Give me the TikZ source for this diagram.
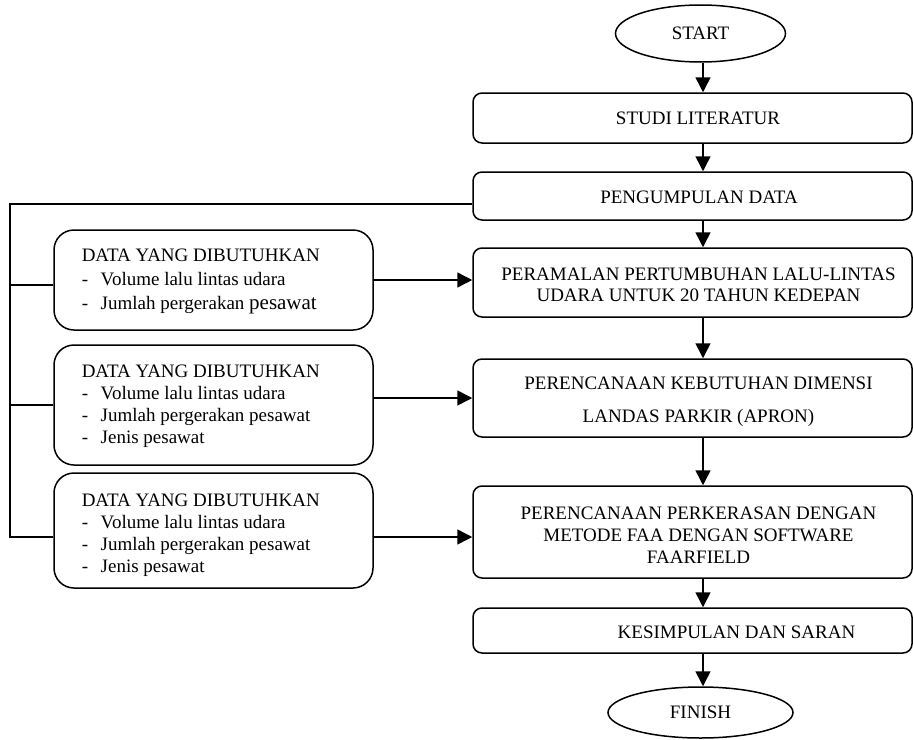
\documentclass[tikz,border=0pt]{standalone}
\usepackage{fontspec}
\setmainfont{Liberation Serif}
\usetikzlibrary{arrows.meta,shapes.geometric}
\begin{document}
\begin{tikzpicture}[x=1pt,y=-1pt,line width=1.5pt,
  rbox/.style={draw,rounded corners=9pt,minimum width=439pt,inner sep=0pt},
  lbox/.style={draw,rounded corners=20pt,minimum width=319pt,inner sep=0pt},
  oval/.style={draw,ellipse,inner sep=0pt,font=\fontsize{19}{22}\selectfont},
  txt/.style={font=\fontsize{19}{21}\selectfont,align=center,inner sep=0pt},
  ltxt/.style={font=\fontsize{19}{22}\selectfont,align=left,inner sep=0pt,anchor=west},
  arr/.style={-{Triangle[length=15pt,width=15pt]}}]
\useasboundingbox (0,0) rectangle (913,739);
\newcommand{\dashitem}{\makebox[19pt][l]{-}}

% right column
\node[oval,minimum width=170pt,minimum height=57pt] (start) at (700.5,33.5) {START};
\node[rbox,minimum height=50pt] (studi) at (692.5,118) {};
\node[txt] (studit) at (698,118) {STUDI LITERATUR};
\node[rbox,minimum height=48pt] (peng) at (692.5,196) {};
\node[txt] (pengt) at (699,197) {PENGUMPULAN DATA};
\node[rbox,minimum height=69pt] (peram) at (692.5,282.5) {};
\node[txt] (peramt) at (698.5,285) {PERAMALAN PERTUMBUHAN LALU-LINTAS\\UDARA UNTUK 20 TAHUN KEDEPAN};
\node[rbox,minimum height=78pt] (apron) at (692.5,398) {};
\node[txt,font=\fontsize{19}{33}\selectfont] (apront) at (698.5,401.5) {PERENCANAAN KEBUTUHAN DIMENSI\\LANDAS PARKIR (APRON)};
\node[rbox,minimum height=92pt] (perk) at (692.5,532) {};
\node[txt,font=\fontsize{19}{22}\selectfont] (perkt) at (698.5,535) {PERENCANAAN PERKERASAN DENGAN\\METODE FAA DENGAN SOFTWARE\\FAARFIELD};
\node[rbox,minimum height=45pt] (kes) at (692.5,630.5) {};
\node[txt] (kest) at (736.5,632) {KESIMPULAN DAN SARAN};
\node[oval,minimum width=185pt,minimum height=51pt] (finish) at (700.5,712.5) {FINISH};

% left boxes
\node[lbox,minimum height=100pt] (b1) at (213.5,280) {};
\node[ltxt,font=\fontsize{19}{24}\selectfont] (b1t) at (81,281) {DATA YANG DIBUTUHKAN\\\dashitem Volume lalu lintas udara\\\dashitem Jumlah pergerakan {\fontsize{21}{24}\selectfont pesawat}};
\node[lbox,minimum height=120pt] (b2) at (213.5,405) {};
\node[ltxt] (b2t) at (81,406) {DATA YANG DIBUTUHKAN\\\dashitem Volume lalu lintas udara\\\dashitem Jumlah pergerakan pesawat\\\dashitem Jenis pesawat};
\node[lbox,minimum height=115pt] (b3) at (213.5,530.5) {};
\node[ltxt] (b3t) at (81,535) {DATA YANG DIBUTUHKAN\\\dashitem Volume lalu lintas udara\\\dashitem Jumlah pergerakan pesawat\\\dashitem Jenis pesawat};

% vertical flow
\coordinate (ax) at (703,0);
\draw[arr] (start.south -| ax) -- (studi.north -| ax);
\draw[arr] (studi.south -| ax) -- (peng.north -| ax);
\draw[arr] (peng.south -| ax) -- (peram.north -| ax);
\draw[arr] (peram.south -| ax) -- (apron.north -| ax);
\draw[arr] (apron.south -| ax) -- (perk.north -| ax);
\draw[arr] (perk.south -| ax) -- (kes.north -| ax);
\draw[arr] (kes.south -| ax) -- (finish.north -| ax);

% bus on the left
\coordinate (bustop) at (10,204);
\coordinate (busbot) at (10,537);
\draw (peng.west |- bustop) -- (bustop) -- (busbot) -- (b3.west |- busbot);
\draw (bustop |- 0,285) -- (b1.west |- 0,285);
\draw (bustop |- 0,405) -- (b2.west |- 0,405);

% horizontal arrows
\draw[arr] (b1.east |- 0,280) -- (peram.west |- 0,280);
\draw[arr] (b2.east |- 0,398) -- (apron.west |- 0,398);
\draw[arr] (b3.east |- 0,537) -- (perk.west |- 0,537);
\end{tikzpicture}
\end{document}
